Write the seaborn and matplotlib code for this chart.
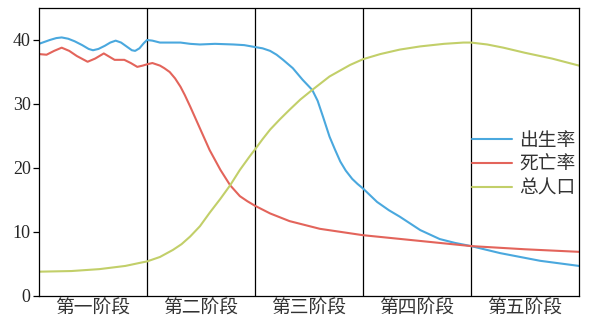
import pandas as pd
import seaborn as sns
import matplotlib.pyplot as plt

stage_labels = ['第一阶段', '第二阶段', '第三阶段', '第四阶段', '第五阶段']
series_names = ['出生率', '死亡率', '总人口']

birth_x = [0, 0.05, 0.10, 0.16, 0.21, 0.27, 0.33, 0.40, 0.46, 0.50, 0.55,
           0.61, 0.66, 0.71, 0.76, 0.81, 0.86, 0.89, 0.93, 0.97, 1.0, 1.05,
           1.12, 1.22, 1.31, 1.40, 1.49, 1.63, 1.80, 1.90, 2.0, 2.07, 2.14,
           2.20, 2.26, 2.35, 2.44, 2.53, 2.58, 2.63, 2.69, 2.74, 2.79, 2.84,
           2.90, 2.95, 3.0, 3.13, 3.24, 3.34, 3.53, 3.71, 3.85, 4.0, 4.27,
           4.64, 5.0]
birth_y = [39.4, 39.7, 40.0, 40.3, 40.4, 40.2, 39.8, 39.2, 38.6, 38.4, 38.6,
           39.1, 39.6, 39.9, 39.6, 39.0, 38.4, 38.3, 38.7, 39.5, 40.0, 39.9,
           39.6, 39.6, 39.6, 39.4, 39.3, 39.4, 39.3, 39.2, 38.9, 38.7, 38.3,
           37.7, 36.9, 35.6, 33.8, 32.2, 30.5, 28.0, 24.9, 22.9, 21.0, 19.6,
           18.3, 17.5, 16.8, 14.7, 13.4, 12.4, 10.3, 8.9, 8.3, 7.8, 6.7,
           5.5, 4.7]

death_x = [0, 0.07, 0.14, 0.21, 0.28, 0.35, 0.45, 0.52, 0.60, 0.65, 0.70,
           0.79, 0.85, 0.91, 0.96, 1.0, 1.05, 1.12, 1.16, 1.21, 1.26, 1.31,
           1.35, 1.40, 1.49, 1.58, 1.68, 1.77, 1.86, 1.93, 2.0, 2.14, 2.32,
           2.6, 3.0, 3.53, 4.0, 4.5, 5.0]
death_y = [37.8, 37.7, 38.3, 38.8, 38.3, 37.5, 36.6, 37.1, 37.9, 37.4, 36.9,
           36.9, 36.4, 35.8, 36.0, 36.2, 36.4, 36.0, 35.6, 35.0, 34.0, 32.7,
           31.4, 29.6, 26.2, 22.8, 19.7, 17.3, 15.6, 14.8, 14.1, 12.9, 11.7,
           10.5, 9.5, 8.6, 7.8, 7.3, 6.9]

pop_x = [0, 0.3, 0.56, 0.8, 0.94, 1.0, 1.12, 1.24, 1.32, 1.40, 1.49, 1.58,
         1.68, 1.77, 1.86, 1.95, 2.0, 2.07, 2.14, 2.23, 2.32, 2.42, 2.53,
         2.69, 2.88, 3.0, 3.16, 3.34, 3.53, 3.75, 3.93, 4.0, 4.15, 4.3, 4.5,
         4.75, 5.0]
pop_y = [3.8, 3.9, 4.2, 4.7, 5.2, 5.4, 6.1, 7.2, 8.1, 9.3, 10.9, 13.0,
         15.2, 17.3, 19.7, 21.8, 22.9, 24.5, 26.0, 27.6, 29.1, 30.7, 32.2,
         34.3, 36.1, 37.0, 37.8, 38.5, 39.0, 39.4, 39.6, 39.6, 39.3, 38.8,
         38.0, 37.1, 36.0]

colors = ['#4aa8de', '#e3645b', '#c2cf69']

df = pd.concat([
    pd.DataFrame({'x': birth_x, 'y': birth_y, 'series': series_names[0]}),
    pd.DataFrame({'x': death_x, 'y': death_y, 'series': series_names[1]}),
    pd.DataFrame({'x': pop_x, 'y': pop_y, 'series': series_names[2]}),
])

sns.set_style('white')
plt.rcParams['font.family'] = ['Liberation Serif', 'Noto Sans CJK SC']

fig = plt.figure(figsize=(5.9, 3.2), dpi=100)
ax = fig.add_axes([39 / 590, 1 - 296 / 320, 540 / 590, 288 / 320])

sns.lineplot(data=df, x='x', y='y', hue='series', palette=colors,
             linewidth=1.5, ax=ax, sort=False)

for b in range(1, len(stage_labels)):
    ax.axvline(b, color='black', linewidth=0.9, zorder=1)

ax.set_xlim(0, 5)
ax.set_ylim(0, 45)
ax.set_yticks([0, 10, 20, 30, 40])
ax.set_xticks([i + 0.5 for i in range(len(stage_labels))])
ax.set_xticklabels(stage_labels, fontsize=13.5, color='#333333')
ax.tick_params(axis='x', length=0, pad=3)
ax.tick_params(axis='y', length=4, width=0.9, direction='out', labelsize=13,
               pad=2, left=True, color='black')
ax.set_xlabel('')
ax.set_ylabel('')
for sp in ax.spines.values():
    sp.set_color('black')
    sp.set_linewidth(0.9)

leg = ax.legend(loc='center right', bbox_to_anchor=(1.0, 0.455), frameon=False,
                fontsize=13.5, handlelength=2.1, handletextpad=0.4,
                labelspacing=0.35, borderpad=0.2, borderaxespad=0.0)
for t in leg.get_texts():
    t.set_color('#333333')

fig.savefig('out.png', dpi=100)
